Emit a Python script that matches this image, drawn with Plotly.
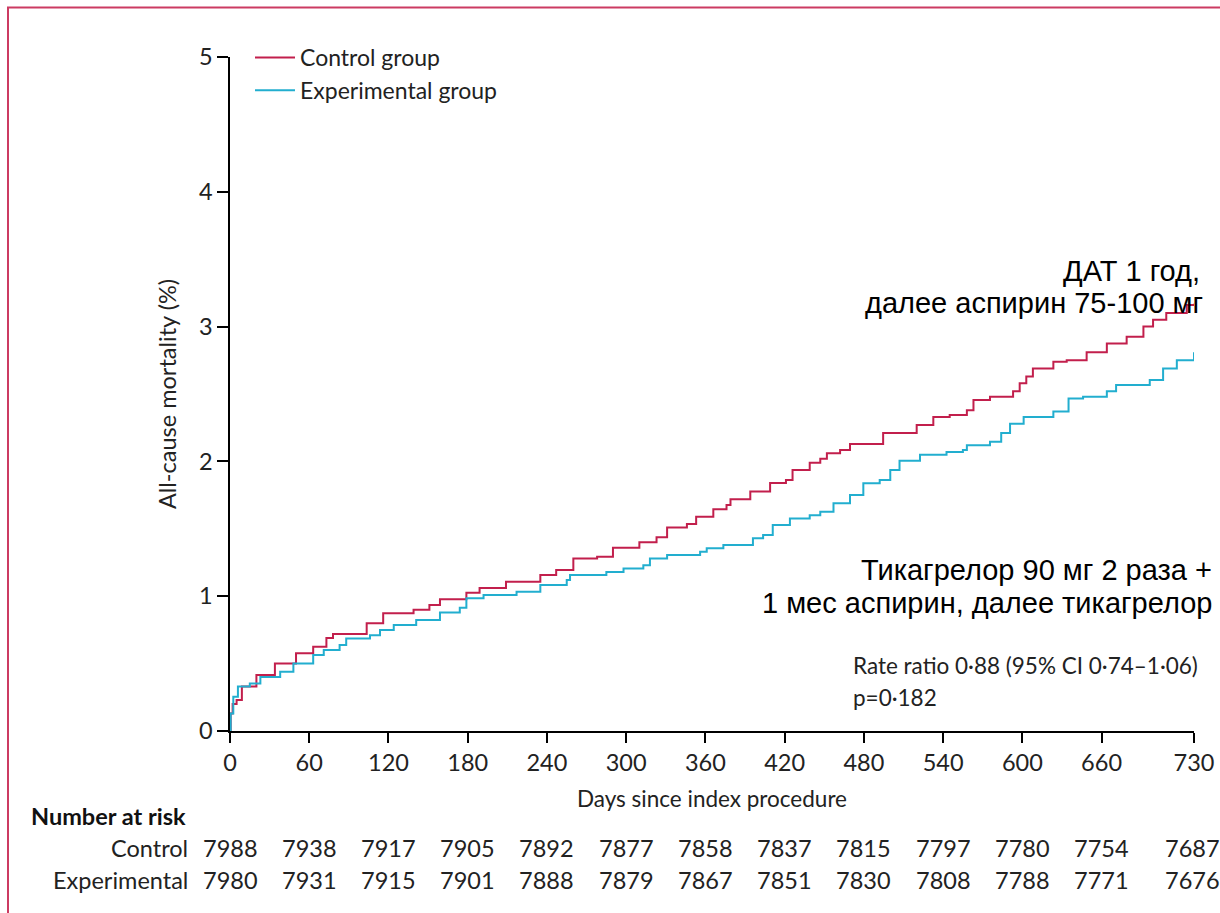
import plotly.graph_objects as go

# Kaplan–Meier style cumulative all-cause mortality (%) by day
control_days = [0, 0.5, 2, 5, 9, 20, 34, 50, 63, 73, 78, 103.5, 116, 139, 151, 159, 179,
                189, 209, 235, 247, 260, 278, 290, 310, 323, 331, 346, 353, 366, 376, 379,
                394, 409, 421, 426, 439, 447, 452, 462, 469.5, 494.6, 520, 532.6, 545, 558,
                563, 575.5, 593, 598, 603, 608, 623.5, 633.6, 648.7, 664, 679, 691.7, 699,
                709, 724.5, 730]
control_pct = [0, 0.13, 0.2, 0.23, 0.33, 0.415, 0.50, 0.576, 0.625, 0.69, 0.72, 0.80, 0.873,
               0.90, 0.935, 0.977, 1.026, 1.06, 1.107, 1.157, 1.194, 1.28, 1.293, 1.36, 1.40,
               1.437, 1.51, 1.536, 1.59, 1.645, 1.677, 1.72, 1.776, 1.84, 1.862, 1.936, 1.99,
               2.02, 2.06, 2.085, 2.13, 2.21, 2.27, 2.33, 2.344, 2.38, 2.455, 2.48, 2.52,
               2.58, 2.63, 2.69, 2.74, 2.75, 2.81, 2.875, 2.925, 3.0, 3.05, 3.10, 3.16, 3.17]

exp_days = [0, 0.5, 2.5, 6, 15, 23, 38, 48, 63, 71, 83, 88, 106, 113.6, 124, 141, 159, 174,
            179, 192, 217, 235, 255, 257.5, 285, 298, 313, 318, 331, 356, 361, 373.6, 396,
            403.7, 411, 424, 439, 447, 457, 469.5, 479.6, 492, 500, 507, 522.5, 542.6, 555,
            558, 575.5, 584, 590.7, 601, 623.5, 635, 646, 664, 671, 696.5, 706.6, 717, 730]
exp_pct = [0, 0.13, 0.255, 0.33, 0.353, 0.40, 0.44, 0.50, 0.564, 0.60, 0.638, 0.687, 0.71,
           0.75, 0.786, 0.823, 0.88, 0.915, 0.984, 1.009, 1.033, 1.083, 1.12, 1.157, 1.18,
           1.206, 1.23, 1.28, 1.306, 1.33, 1.355, 1.38, 1.43, 1.454, 1.528, 1.577, 1.60,
           1.627, 1.69, 1.75, 1.838, 1.862, 1.936, 2.005, 2.05, 2.07, 2.085, 2.12, 2.146,
           2.21, 2.28, 2.33, 2.37, 2.467, 2.48, 2.52, 2.567, 2.604, 2.69, 2.75, 2.81]

# Axis ticks
x_ticks = [0, 60, 120, 180, 240, 300, 360, 420, 480, 540, 600, 660, 730]
y_ticks = [0, 1, 2, 3, 4, 5]

# Number at risk table
risk_days = [0, 60, 120, 180, 240, 300, 360, 420, 480, 540, 600, 660, 730]
risk_control = [7988, 7938, 7917, 7905, 7892, 7877, 7858, 7837, 7815, 7797, 7780, 7754, 7687]
risk_experimental = [7980, 7931, 7915, 7901, 7888, 7879, 7867, 7851, 7830, 7808, 7788, 7771, 7676]

RED = "#c21f4c"
BLUE = "#22aecf"
FRAME = "#cc3b62"
INK = "#222222"
FONT = "Lato"
RU_FONT = "Liberation Sans"

# plot-area geometry in pixels (used to place paper-referenced text)
L, R, T, B = 230, 1194, 57, 731


def px(xp):
    return (xp - L) / (R - L)


def py(yp):
    return (B - yp) / (B - T)


fig = go.Figure()
fig.add_trace(go.Scatter(x=control_days, y=control_pct, mode="lines", name="Control group",
                         line=dict(color=RED, width=2, shape="hv")))
fig.add_trace(go.Scatter(x=exp_days, y=exp_pct, mode="lines", name="Experimental group",
                         line=dict(color=BLUE, width=2, shape="hv")))

axis_common = dict(showgrid=False, zeroline=False, showline=True, linecolor="black",
                   linewidth=1.5, ticks="outside", tickcolor="black", tickwidth=1.5,
                   automargin=False,
                   tickfont=dict(family=FONT, size=23.5, color=INK))

fig.update_xaxes(range=[0, 730], tickvals=x_ticks, ticktext=[str(t) for t in x_ticks],
                 ticklen=10, title=dict(text="Days since index procedure", standoff=16,
                                        font=dict(family=FONT, size=22.5, color=INK)),
                 **axis_common)
fig.update_yaxes(range=[0, 5], tickvals=y_ticks, ticklen=11,
                 title=dict(text="All-cause mortality (%)", standoff=16,
                            font=dict(family=FONT, size=23.5, color=INK)),
                 **axis_common)

annotations = []
# Number at risk rows
annotations.append(dict(xref="paper", yref="paper", x=px(29), y=py(816),
                        xanchor="left", yanchor="middle", showarrow=False,
                        text="<b>Number at risk</b>", font=dict(family=FONT, size=23.5, color="#111")))
for label, row, ypx in (("Control", risk_control, 848), ("Experimental", risk_experimental, 880)):
    annotations.append(dict(xref="paper", yref="paper", x=px(190), y=py(ypx),
                            xanchor="right", yanchor="middle", showarrow=False, text=label,
                            font=dict(family=FONT, size=23.5, color=INK)))
    for d, n in zip(risk_days, row):
        annotations.append(dict(xref="x", yref="paper", x=d, y=py(ypx),
                                xanchor="center", xshift=-2 if d == risk_days[-1] else 0,
                                yanchor="middle", showarrow=False, text=str(n),
                                font=dict(family=FONT, size=23.5, color=INK)))

# Statistics
annotations.append(dict(xref="paper", yref="paper", x=px(851), y=py(665),
                        xanchor="left", yanchor="middle", showarrow=False,
                        text="Rate ratio 0·88 (95% CI 0·74–1·06)",
                        font=dict(family=FONT, size=22.5, color=INK)))
annotations.append(dict(xref="paper", yref="paper", x=px(851), y=py(697),
                        xanchor="left", yanchor="middle", showarrow=False, text="p=0·182",
                        font=dict(family=FONT, size=22.5, color=INK)))

# Regimen labels
for txt, xr, yc in (("ДАТ 1 год,", 1202, 271),
                    ("далее аспирин 75-100 мг", 1205, 303),
                    ("Тикагрелор 90 мг 2 раза +", 1214, 570),
                    ("1 мес аспирин, далее тикагрелор", 1214, 603)):
    annotations.append(dict(xref="paper", yref="paper", x=px(xr), y=py(yc),
                            xanchor="right", yanchor="middle", showarrow=False, text=txt,
                            font=dict(family=RU_FONT, size=29, color="black")))

fig.update_layout(
    width=1220, height=913,
    margin=dict(l=L, r=1220 - R, t=T, b=913 - B),
    plot_bgcolor="white", paper_bgcolor="white",
    showlegend=True,
    legend=dict(x=px(250), y=py(36), xanchor="left", yanchor="top",
                bgcolor="rgba(0,0,0,0)", font=dict(family=FONT, size=23, color=INK),
                tracegroupgap=0, itemwidth=40),
    annotations=annotations,
    shapes=[dict(type="rect", xref="paper", yref="paper",
                 x0=px(8), x1=1.2, y0=-0.4, y1=py(7.5),
                 line=dict(color=FRAME, width=2), layer="below")],
)

fig.write_html("out.html")
